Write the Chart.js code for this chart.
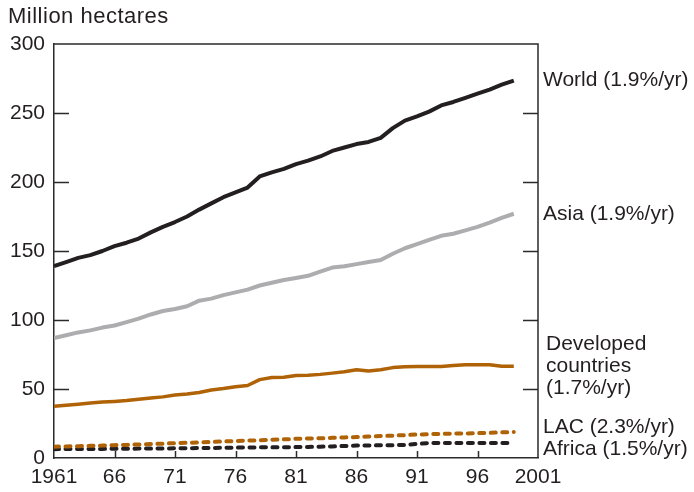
<!DOCTYPE html>
<html>
<head>
<meta charset="utf-8">
<script src="https://cdn.jsdelivr.net/npm/chart.js@4/dist/chart.umd.min.js"></script>
<style>
html,body{margin:0;padding:0;background:#fff;}
#wrap{width:694px;height:492px;position:relative;}
</style>
</head>
<body>
<div id="wrap"><canvas id="c" width="694" height="492"></canvas></div>
<script>
const years = [1961,1962,1963,1964,1965,1966,1967,1968,1969,1970,1971,1972,1973,1974,1975,1976,1977,1978,1979,1980,1981,1982,1983,1984,1985,1986,1987,1988,1989,1990,1991,1992,1993,1994,1995,1996,1997,1998,1999];
const world = [139,142,145,147,150,153.5,156,159,163.5,167.5,171,175,180,184.5,189,192.5,196,204,207,209.5,213,215.5,218.5,222.5,225,227.5,229,232,239,244.5,247.5,251,255.5,258,261,264,267,270.5,273.5];
const asia = [87,89,91,92.5,94.5,96,98.5,101,104,106.5,108,110,114,115.5,118,120,122,125,127,129,130.5,132,135,138,139,140.5,142,143.5,148,152,155,158,161,162.5,165,167.5,170.5,174,177];
const developed = [37.5,38.3,39,39.8,40.5,41,41.6,42.5,43.4,44.3,45.6,46.3,47.5,49.3,50.3,51.7,52.5,56.8,58.3,58.5,59.8,60,60.6,61.5,62.5,64,63,64,65.5,66.2,66.3,66.3,66.3,67,67.5,67.5,67.5,66.5,66.5];
const lac = [8.2,8.4,8.6,8.8,9.0,9.3,9.5,9.8,10.1,10.4,10.8,11.0,11.3,11.6,12.0,12.3,12.6,12.9,13.2,13.5,13.9,14.1,14.3,14.6,14.9,15.2,15.6,15.9,16.2,16.6,17.0,17.3,17.5,17.7,17.8,18.0,18.2,18.6,18.8];
const africa = [6.4,6.5,6.5,6.6,6.6,6.7,6.7,6.8,6.8,6.9,7.0,7.1,7.2,7.3,7.4,7.5,7.6,7.7,7.7,7.8,7.9,8.0,8.2,8.4,8.7,9.0,9.1,9.2,9.3,9.5,10.2,10.8,10.9,10.9,10.9,10.9,10.9,10.9,10.9];
const xTicks = [1961,1966,1971,1976,1981,1986,1991,1996,2001];
const xTickLabels = ["1961","66","71","76","81","86","91","96","2001"];
const yTicks = [0,50,100,150,200,250,300];
const yTitle = "Million hectares";
const seriesLabels = [["World (1.9%/yr)"],["Asia (1.9%/yr)"],["Developed","countries","(1.7%/yr)"],["LAC (2.3%/yr)"],["Africa (1.5%/yr)"]];

const FONT = '"Liberation Sans", Arial, Helvetica, sans-serif';
const pts = arr => years.map((y,i)=>({x:y,y:arr[i]}));

const labelOffsets = [0,0,0,-5,6];

const decor = {
  id:'decor',
  afterDraw(chart){
    const ctx = chart.ctx, a = chart.chartArea;
    const xs = chart.scales.x, ys = chart.scales.y;
    ctx.save();
    ctx.strokeStyle = '#2b2b2b';
    ctx.lineWidth = 1.5;
    ctx.beginPath();
    ctx.moveTo(a.left, a.top); ctx.lineTo(a.right, a.top); ctx.lineTo(a.right, a.bottom);
    ctx.stroke();
    yTicks.forEach(v=>{
      if(v===0||v===300) return;
      const p = Math.round(ys.getPixelForValue(v))+0.5;
      ctx.beginPath();
      ctx.moveTo(a.left, p); ctx.lineTo(a.left+15, p);
      ctx.moveTo(a.right-15, p); ctx.lineTo(a.right, p);
      ctx.stroke();
    });
    xTicks.forEach(v=>{
      if(v===1961||v===2001) return;
      const p = Math.round(xs.getPixelForValue(v))+0.5;
      ctx.beginPath();
      ctx.moveTo(p, a.bottom); ctx.lineTo(p, a.bottom-7);
      ctx.stroke();
    });
    ctx.fillStyle = '#231f20';
    ctx.font = '22px ' + FONT;
    ctx.textAlign = 'left';
    ctx.textBaseline = 'alphabetic';
    try { ctx.letterSpacing = '0.5px'; } catch(e){}
    ctx.fillText(yTitle, 8, 23);
    try { ctx.letterSpacing = '0px'; } catch(e){}
    ctx.font = '21px ' + FONT;
    ctx.textBaseline = 'middle';
    chart.data.datasets.forEach((ds,i)=>{
      const last = ds.data[ds.data.length-1].y;
      const py = ys.getPixelForValue(last) + labelOffsets[i];
      const lines = seriesLabels[i];
      const lh = 22;
      const start = py - (lines.length-1)*lh/2;
      lines.forEach((t,k)=>{
        ctx.fillText(t, a.right+5 + (lines.length>1?3:0), start + k*lh);
      });
    });
    ctx.restore();
  }
};

new Chart(document.getElementById('c'), {
  type:'line',
  data:{
    datasets:[
      {label:'World', data:pts(world), borderColor:'#231f20', borderWidth:4},
      {label:'Asia', data:pts(asia), borderColor:'#adadaf', borderWidth:4},
      {label:'Developed countries', data:pts(developed), borderColor:'#b06306', borderWidth:3.5},
      {label:'LAC', data:pts(lac), borderColor:'#b06306', borderWidth:4, borderDash:[5,6.5], borderCapStyle:'round'},
      {label:'Africa', data:pts(africa), borderColor:'#231f20', borderWidth:4, borderDash:[5,6.5], borderCapStyle:'round'}
    ]
  },
  options:{
    responsive:false,
    animation:false,
    devicePixelRatio:1,
    layout:{padding:{top:44, right:156, left:0, bottom:0}},
    elements:{point:{radius:0}, line:{tension:0, borderJoinStyle:'round', borderCapStyle:'butt', fill:false}},
    plugins:{legend:{display:false}, tooltip:{enabled:false}, title:{display:false}},
    scales:{
      x:{
        type:'linear', min:1961, max:2001,
        afterBuildTicks(s){ s.ticks = xTicks.map(v=>({value:v})); },
        afterFit(s){ s.height = 34; },
        grid:{display:false, drawTicks:false},
        border:{display:true, color:'#2b2b2b', width:1.5},
        ticks:{
          padding:7, maxRotation:0, autoSkip:false,
          color:'#231f20', font:{family:FONT, size:21},
          callback(v){ const i = xTicks.indexOf(v); return i>=0 ? xTickLabels[i] : ''; }
        }
      },
      y:{
        type:'linear', min:0, max:300,
        afterBuildTicks(s){ s.ticks = yTicks.map(v=>({value:v})); },
        afterFit(s){ s.width = 54; },
        grid:{display:false, drawTicks:false},
        border:{display:true, color:'#2b2b2b', width:1.5},
        ticks:{padding:9, color:'#231f20', font:{family:FONT, size:21}}
      }
    }
  },
  plugins:[decor]
});
</script>
</body>
</html>
